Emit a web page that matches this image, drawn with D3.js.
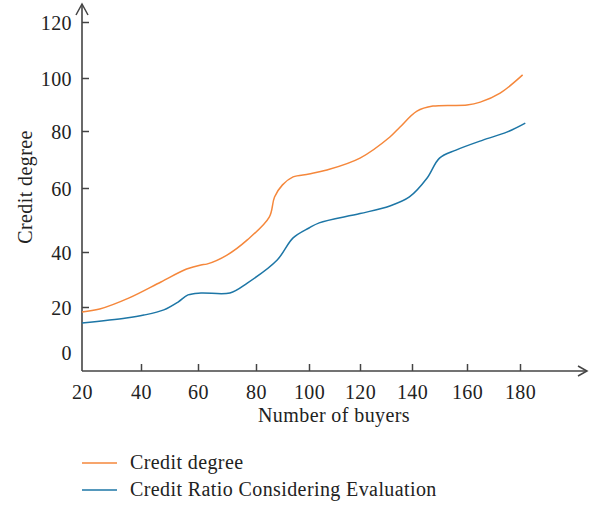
<!DOCTYPE html>
<html><head><meta charset="utf-8">
<script src="https://cdn.jsdelivr.net/npm/d3@7"></script>
<style>body{margin:0;background:#fff}svg{display:block}text{font-family:"Liberation Serif","DejaVu Serif",serif;fill:#222;letter-spacing:0.4px}</style>
</head><body>
<svg id="c" width="600" height="506"></svg>
<script>
const xTicks = [20, 40, 60, 80, 100, 120, 140, 160, 180];
const yTicks = [0, 20, 40, 60, 80, 100, 120];
const creditX = [20, 26, 36, 47, 56, 61, 63, 70, 77, 85, 87, 90, 94, 100, 107, 120, 131.5, 135.4, 141.8, 147.6, 160, 165, 172.5, 181];
const creditY = [17.8, 19.1, 23.3, 29.1, 33.8, 35.3, 35.6, 38.9, 43.8, 50.9, 57.2, 61.1, 63.9, 64.9, 66.3, 70.5, 77.9, 81.5, 87.5, 89.4, 89.8, 90.9, 94.3, 101.1];
const ratioX = [20, 35, 41, 48, 53, 56.5, 61, 71, 77, 88, 94, 100, 104, 120, 131.5, 139, 145.5, 150, 156, 166, 175, 182];
const ratioY = [12.9, 15.1, 16.4, 18.7, 21.8, 24.4, 25.1, 25.1, 28.7, 37.1, 44.4, 47.5, 49.1, 52, 54.4, 57.2, 63.5, 70.5, 73.3, 76.8, 79.6, 83];
const seriesNames = ["Credit degree", "Credit Ratio Considering Evaluation"];
const colors = ["#F5873B", "#1D76A6"];

const svg = d3.select("#c");
const x = d3.scaleLinear().domain(xTicks).range([82, 141, 198, 256, 309, 360, 412, 467, 520]);
const y = d3.scaleLinear().domain(yTicks).range([352, 307, 252, 188, 131, 78, 22]);
const axisColor = "#444";
const x0 = 82, yBase = 371;

// axes
const gx = svg.append("g").attr("transform", `translate(0,${yBase})`)
  .call(d3.axisBottom(x).tickValues(xTicks).tickSize(-7).tickPadding(14).tickFormat(d3.format("d")));
const gy = svg.append("g").attr("transform", `translate(${x0},0)`)
  .call(d3.axisLeft(y).tickValues(yTicks).tickSize(-7).tickPadding(10).tickFormat(d3.format("d")));
[gx, gy].forEach(g => {
  g.select(".domain").remove();
  g.selectAll(".tick line").attr("stroke", axisColor).attr("stroke-width", 1.5);
  g.selectAll(".tick text").style("font-size", "20px").attr("fill", "#222");
});
gx.selectAll(".tick").filter(d => d === 20).select("line").remove();
gy.selectAll(".tick").filter(d => d === 0).select("line").remove();
gy.selectAll(".tick text").attr("dy", "0.35em");

svg.append("line").attr("x1", x0).attr("x2", 587).attr("y1", yBase).attr("y2", yBase).attr("stroke", axisColor).attr("stroke-width", 1.6);
svg.append("line").attr("x1", x0).attr("x2", x0).attr("y1", 4).attr("y2", yBase).attr("stroke", axisColor).attr("stroke-width", 1.6);
svg.append("path").attr("d", "M578,366L587,371L578,376").attr("fill", "none").attr("stroke", axisColor).attr("stroke-width", 1.5);
svg.append("path").attr("d", "M76,15L82,4L88,15").attr("fill", "none").attr("stroke", axisColor).attr("stroke-width", 1.5);

// lines
const line = d3.line().x(d => x(d[0])).y(d => y(d[1])).curve(d3.curveCatmullRom.alpha(0.5));
const data = [d3.zip(creditX, creditY), d3.zip(ratioX, ratioY)];
data.forEach((d, i) => {
  svg.append("path").datum(d).attr("d", line).attr("fill", "none").attr("stroke", colors[i]).attr("stroke-width", 1.5);
});

// titles
svg.append("text").attr("x", 334).attr("y", 422).attr("text-anchor", "middle").style("font-size", "20px").text("Number of buyers");
svg.append("text").attr("transform", "translate(32,187) rotate(-90)").attr("text-anchor", "middle").style("font-size", "20px").text("Credit degree");

// legend
seriesNames.forEach((n, i) => {
  const ly = 463 + i * 27;
  svg.append("line").attr("x1", 82).attr("x2", 117).attr("y1", ly).attr("y2", ly).attr("stroke", colors[i]).attr("stroke-width", 1.5);
  svg.append("text").attr("x", 130).attr("y", ly + 6).style("font-size", "20px").text(n);
});
</script>
</body></html>
